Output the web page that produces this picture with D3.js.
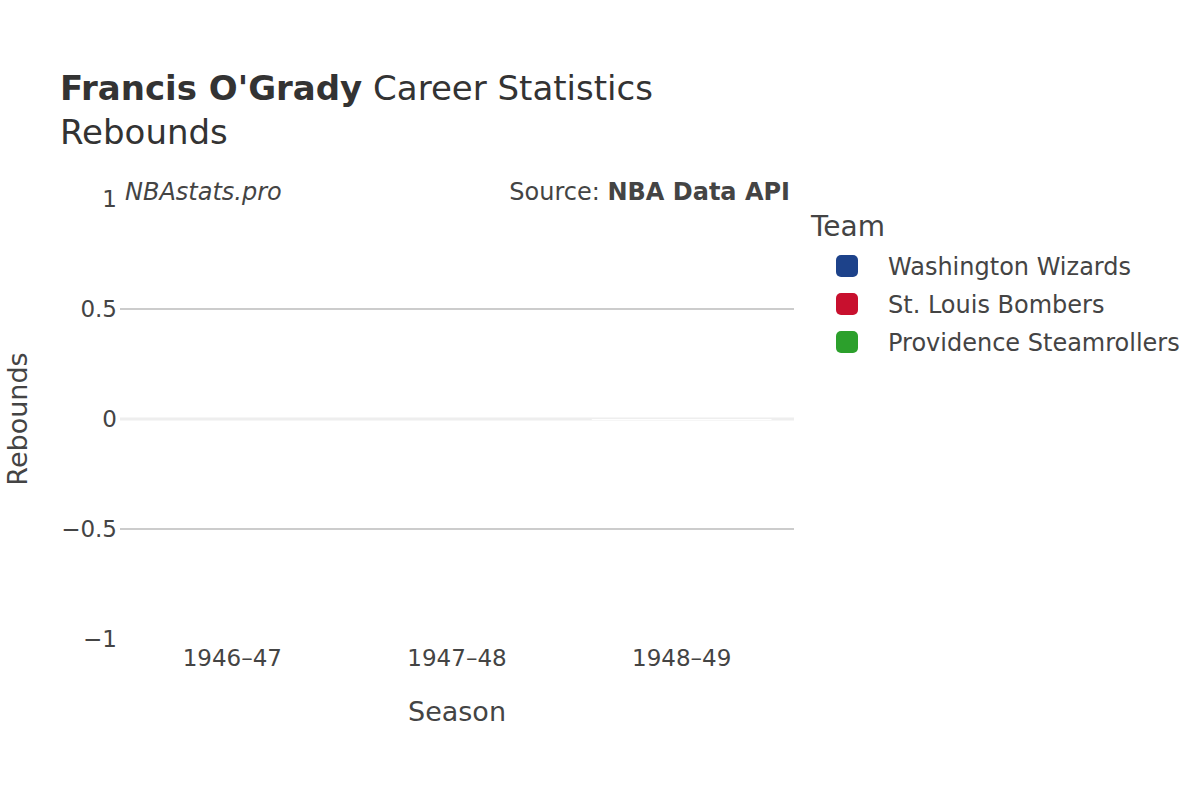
<!DOCTYPE html>
<html><head><meta charset="utf-8">
<script src="https://cdn.jsdelivr.net/npm/d3@7"></script>
<style>body{margin:0;background:#fff;font-family:"DejaVu Sans",sans-serif}</style>
</head><body>
<script>
const seasons = ["1946–47","1947–48","1948–49"];
const teams = ["Washington Wizards","St. Louis Bombers","Providence Steamrollers"];
const teamColors = ["#1d428a","#c8102e","#2ca02c"];
const barTeam = ["Washington Wizards","St. Louis Bombers","Providence Steamrollers"];
const rebounds = [0,0,0];
const yTicks = [-1,-0.5,0,0.5,1];

const W=1200,H=800, L=120,R=794,T=199,B=639;
const svg=d3.select("body").append("svg").attr("width",W).attr("height",H);
const x=d3.scaleBand().domain(seasons).range([L,R]).paddingInner(0.2).paddingOuter(0.1);
const y=d3.scaleLinear().domain([-1,1]).range([B,T]);
const fmt=v=>v<0?"−"+Math.abs(v):String(v);

svg.append("g").selectAll("line").data(yTicks.filter(v=>v!==0&&Math.abs(v)!==1)).join("line")
 .attr("x1",L).attr("x2",R).attr("y1",d=>y(d)).attr("y2",d=>y(d)).attr("stroke","#bbb").attr("stroke-width",1.5);
svg.append("line").attr("x1",L).attr("x2",R).attr("y1",y(0)).attr("y2",y(0)).attr("stroke","#eee").attr("stroke-width",3);
svg.append("g").selectAll("text").data(yTicks).join("text")
 .attr("x",L-3).attr("y",d=>y(d)+8).attr("text-anchor","end").attr("font-size",23).attr("fill","#444").text(fmt);

svg.append("g").selectAll("rect").data(seasons).join("rect")
 .attr("x",d=>x(d)).attr("width",x.bandwidth())
 .attr("y",(d,i)=>Math.min(y(rebounds[i]),y(0))).attr("height",(d,i)=>Math.max(1,Math.abs(y(rebounds[i])-y(0))))
 .attr("fill",(d,i)=>i===2?"#fff":"none").attr("opacity",0.9);

svg.append("g").selectAll("text").data(seasons).join("text")
 .attr("x",d=>x(d)+x.bandwidth()/2).attr("y",666).attr("text-anchor","middle").attr("font-size",23).attr("fill","#444").text(d=>d);

svg.append("text").attr("x",457).attr("y",721).attr("text-anchor","middle").attr("font-size",27).attr("fill","#444").text("Season");
svg.append("text").attr("transform","translate(27,419) rotate(-90)").attr("text-anchor","middle").attr("font-size",27).attr("fill","#444").text("Rebounds");

const t=svg.append("text").attr("x",60).attr("y",100).attr("font-size",34).attr("fill","#333");
t.append("tspan").attr("font-weight","bold").text("Francis O'Grady");
t.append("tspan").text(" Career Statistics");
svg.append("text").attr("x",60).attr("y",144).attr("font-size",34).attr("fill","#333").text("Rebounds");

svg.append("text").attr("x",125).attr("y",200).attr("font-size",24).attr("font-style","italic").attr("fill","#444").text("NBAstats.pro");
const s=svg.append("text").attr("x",790).attr("y",200).attr("text-anchor","end").attr("font-size",24).attr("fill","#444");
s.append("tspan").text("Source: ");
s.append("tspan").attr("font-weight","bold").text("NBA Data API");

svg.append("text").attr("x",811).attr("y",236).attr("font-size",28).attr("fill","#444").text("Team");
const lg=svg.append("g").selectAll("g").data(teams).join("g").attr("transform",(d,i)=>`translate(0,${266+i*38})`);
lg.append("rect").attr("x",836).attr("y",-11).attr("width",22).attr("height",22).attr("rx",5).attr("fill",(d,i)=>teamColors[i]);
lg.append("text").attr("x",888).attr("y",9).attr("font-size",24).attr("fill","#444").text(d=>d);
</script>
</body></html>
